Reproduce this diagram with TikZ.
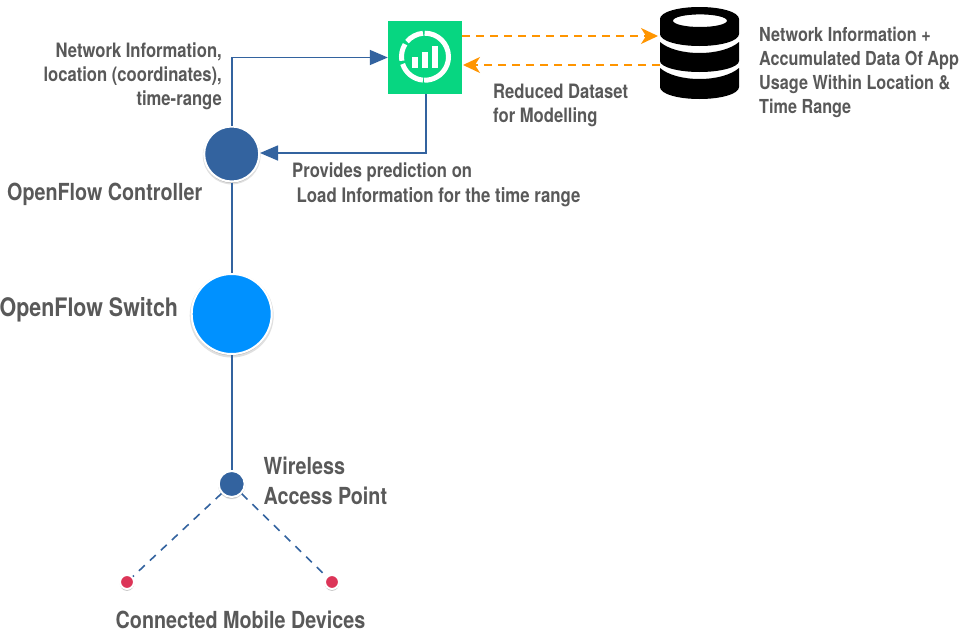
\documentclass[tikz,border=0pt]{standalone}
\usepackage{fontspec}
\setmainfont[FakeStretch=0.84]{TeX Gyre Heros}
\usetikzlibrary{arrows.meta,shadows,calc}
\definecolor{ctl}{HTML}{33639F}
\definecolor{sw}{HTML}{0091FF}
\definecolor{red1}{HTML}{DC3558}
\definecolor{app}{HTML}{07D681}
\definecolor{org}{HTML}{FF9500}
\definecolor{txt}{HTML}{595959}
\tikzset{
  x=1pt,y=-1pt,
  hub/.style={circle,draw=white,line width=2pt,inner sep=0pt,minimum size=#1,
     general shadow={fill=black,opacity=.12,shadow scale=1.05,shadow xshift=0pt,shadow yshift=-1.5pt},
     general shadow={fill=black,opacity=.2,shadow scale=1.0,shadow xshift=0pt,shadow yshift=-1.5pt}},
  lnk/.style={draw=ctl,line width=1.6pt},
  lnkarrow/.style={lnk,-{Triangle[length=18pt,width=15pt]}},
  dlnk/.style={lnk,dash pattern=on 8pt off 7pt},
  odash/.style={draw=org,line width=1.7pt,dash pattern=on 8pt off 6pt,-{Stealth[length=17pt,width=16pt,inset=5pt]}},
  lab/.style={text=txt,font=\bfseries\fontsize{19.8}{24}\selectfont,inner sep=0pt,anchor=base west},
  biglab/.style={text=txt,font=\bfseries\fontsize{23.5}{30}\selectfont,inner sep=0pt,anchor=base west},
  ring/.style={draw=white,line width=5pt,line cap=butt},
}
\begin{document}
\begin{tikzpicture}
\useasboundingbox (0,0) rectangle (962,629);
\fill[white] (0,0) rectangle (962,629);

% nodes
\node[hub=55pt,fill=ctl] (ctrl) at (231.7,154) {};
\node[hub=80pt,fill=sw] (switch) at (231.7,314) {};
\node[hub=26pt,fill=ctl] (ap) at (231.7,484) {};
\node[hub=14pt,fill=red1] (dev1) at (127,582) {};
\node[hub=14pt,fill=red1] (dev2) at (332,582) {};
\node[fill=app,minimum width=74pt,minimum height=73pt,inner sep=0pt] (engine) at (425,57.5) {};
\coordinate (dbin) at (658,36);
\coordinate (dbout) at (660,65);
\coordinate (engout) at (462,36);
\coordinate (engin) at (463,65);
\coordinate (engdown) at (426,94);
\coordinate (bend) at (426,153);
\coordinate (ctrlin) at (260,153);

% app icon
\begin{scope}[shift={(425,56.7)}]
  \foreach \a/\b in {91/-92,95/140,148/190,198/265}{
    \draw[ring] ({23.5*cos(\a)},{-23.5*sin(\a)}) arc[start angle=-\a,end angle=-\b,radius=23.5];
  }
  \fill[white] (-12.7,0.6) rectangle (-6.7,11.6);
  \fill[white] (-3.3,-5) rectangle (2.7,11.6);
  \fill[white] (7.3,-10.7) rectangle (13.3,11.6);
\end{scope}

% database icon
\fill[black,even odd rule] (660,19) .. controls (660,12) and (678,7) .. (699.5,7)
   .. controls (721,7) and (739,12) .. (739,19) -- (739,34)
   .. controls (739,41) and (721,46) .. (699.5,46)
   .. controls (678,46) and (660,41) .. (660,34) -- cycle
   (700,20.7) ellipse [x radius=27,y radius=6.3];
\fill[black] (660,42) .. controls (668,49) and (683,53) .. (699.5,53)
   .. controls (716,53) and (731,49) .. (739,42) -- (739,61)
   .. controls (739,67) and (721,72) .. (699.5,72)
   .. controls (678,72) and (660,67) .. (660,61) -- cycle;
\fill[black] (660,68) .. controls (668,75) and (683,79) .. (699.5,79)
   .. controls (716,79) and (731,75) .. (739,68) -- (739,87)
   .. controls (739,94) and (721,99) .. (699.5,99)
   .. controls (678,99) and (660,94) .. (660,87) -- cycle;

% connectors
\draw[lnkarrow] (ctrl.north) |- (engine.west);
\draw[lnkarrow] (engdown) -- (bend) -- (ctrlin);
\draw[lnk] (ctrl.south) -- (switch.north);
\draw[lnk] (switch.south) -- (ap.north);
\draw[dlnk] (ap) -- (dev1);
\draw[dlnk] (ap) -- (dev2);
\draw[odash] (engout) -- (dbin);
\draw[odash] (dbout) -- (engin);

% labels
\node[lab,align=right,anchor=north east] (l1) at (222,42.5) {Network Information,\\location (coordinates),\\time-range};
\node[lab,align=left,anchor=north west,font=\bfseries\fontsize{19.3}{24}\selectfont] (l2) at (759,26.7) {Network Information +\\Accumulated Data Of App\\Usage Within Location \&\\Time Range};
\node[lab,align=left,anchor=north west] (l3) at (493,84) {Reduced Dataset\\for Modelling};
\node[lab] (l4) at (292,177.5) {Provides prediction on};
\node[lab,font=\bfseries\fontsize{20}{24}\selectfont] (l5) at (296.5,202) {Load Information for the time range};
\node[biglab] (l6) at (7,200) {OpenFlow Controller};
\node[biglab,font=\bfseries\fontsize{25.5}{30}\selectfont] (l7) at (-0.5,316) {OpenFlow Switch};
\node[biglab,align=left,anchor=north west] (l8) at (263.5,457) {Wireless\\Access Point};
\node[biglab] (l9) at (115.5,628) {Connected Mobile Devices};
\end{tikzpicture}
\end{document}
